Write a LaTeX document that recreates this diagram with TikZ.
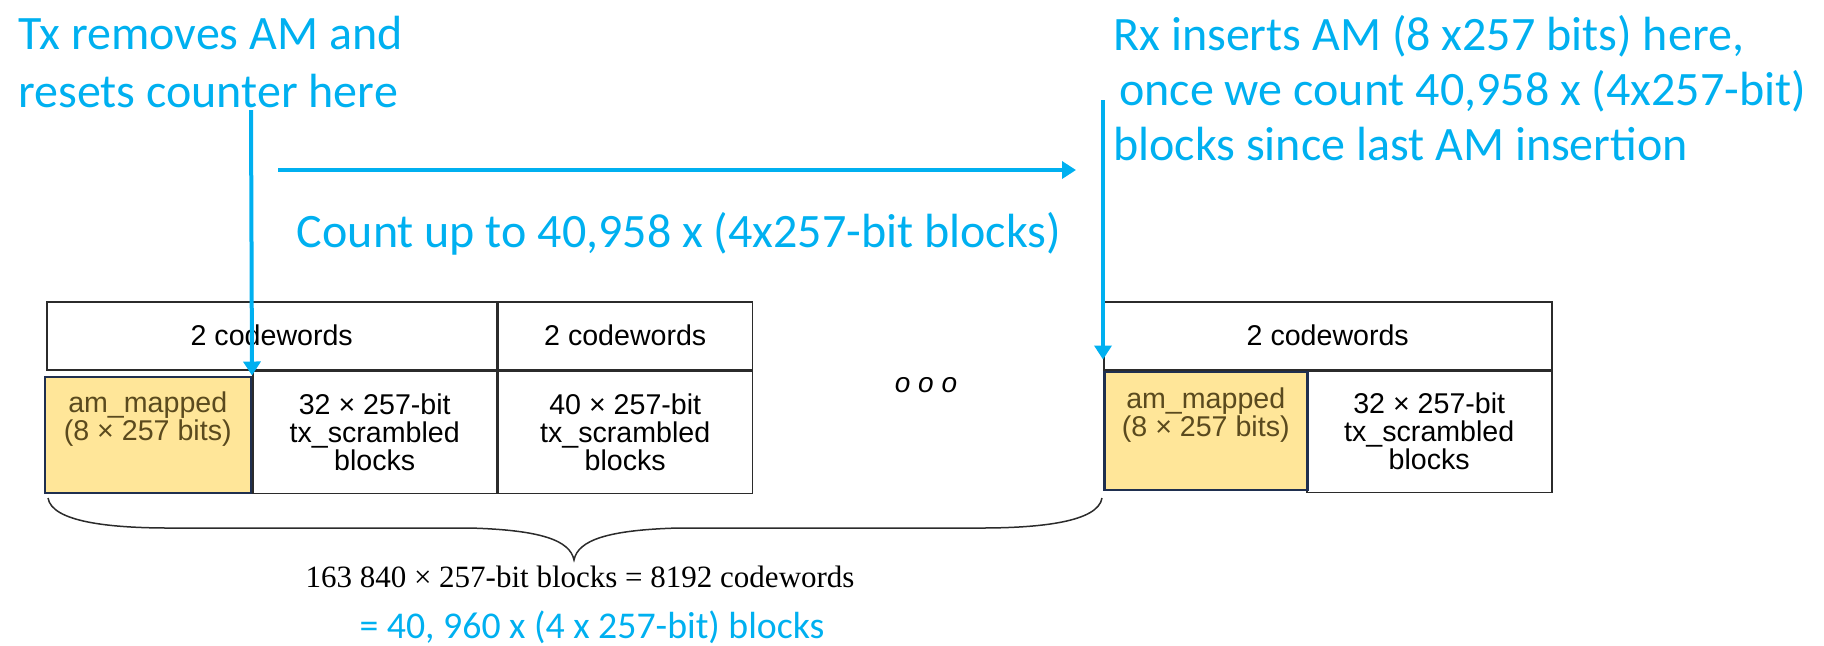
\documentclass[tikz,border=0pt]{standalone}
\usepackage{fontspec}
\setmainfont{Carlito}
\newfontfamily\arialf{Liberation Sans}
\newfontfamily\timesf{Liberation Serif}
\usetikzlibrary{arrows.meta,positioning}
\definecolor{skyblue}{HTML}{00B0F0}
\definecolor{amfill}{HTML}{FFE699}
\definecolor{amline}{HTML}{1F2F4F}
\definecolor{amtext}{HTML}{5A4A1E}
\definecolor{grid}{HTML}{2B2B2B}
\begin{document}
\begin{tikzpicture}[x=0.5pt,y=-0.5pt,>={Triangle[length=7pt,width=8.5pt]},
  note/.style={text=skyblue,font=\fontsize{24}{29}\selectfont,inner sep=0,align=left},
  cell/.style={draw=grid,line width=0.75pt,inner sep=0,align=center,font=\arialf\fontsize{14.3}{14}\selectfont},
  amcell/.style={cell,draw=amline,line width=1.25pt,fill=amfill,text=amtext},
  ar/.style={draw=skyblue,line width=2pt,->}]
\useasboundingbox (0,0) rectangle (1824,645);
\node[note,anchor=north west] (tx) at (18,16) {Tx removes AM and\\resets counter here};
\node[note,anchor=north west,font=\fontsize{24}{27.5}\selectfont] (rx) at (1113,15) {Rx inserts AM (8 x257 bits) here,\\\hspace*{3pt}once we count 40,958 x (4x257-bit)\\blocks since last AM insertion};
\node[note,anchor=base] (cnt) at (679,247) {Count up to 40,958 x (4x257-bit blocks)};
\coordinate (txs) at (251,110); \coordinate (rxs) at (1103,100);
\coordinate (c0) at (278,170); \coordinate (c1) at (1076,170);

\node[cell,anchor=north west,minimum width=225pt,minimum height=34pt] (h1) at (46,301) {2 codewords};
\node[cell,anchor=north west,minimum width=127pt,minimum height=34pt] (h2) at (h1.north east) {2 codewords};
\node[cell,anchor=north west,minimum width=127pt,minimum height=61pt] (b2) at (h2.south west) {40 × 257-bit\\tx\_scrambled\\blocks};
\node[cell,anchor=north east,minimum width=122pt,minimum height=61pt] (b1) at (b2.north west) {32 × 257-bit\\tx\_scrambled\\blocks};
\node[amcell,anchor=south east,minimum width=103pt,minimum height=58pt] (am1) at (b1.south west) {am\_mapped\\(8 × 257 bits)\\[5pt]\mbox{}};
\node[font=\arialf\itshape\fontsize{14}{14}\selectfont] (dots) at (926,385) {o o o};

\node[cell,anchor=north west,minimum width=224pt,minimum height=34pt] (h3) at (1103,301) {2 codewords};
\node[cell,anchor=north east,minimum width=122.5pt,minimum height=60.5pt] (b3) at (h3.south east) {32 × 257-bit\\tx\_scrambled\\blocks};
\node[amcell,anchor=north west,minimum width=101.5pt,minimum height=59pt] (am2) at (h3.south west) {am\_mapped\\(8 × 257 bits)\\[5pt]\mbox{}};

\draw[grid,line width=0.75pt] (48,498) .. controls (52,522) and (110,528) .. (170,528) -- (470,528)
  .. controls (540,530) and (570,540) .. (574,560) .. controls (578,540) and (608,530) .. (678,528)
  -- (980,528) .. controls (1040,528) and (1098,522) .. (1102,498);
\node[font=\timesf\fontsize{15.5}{16}\selectfont,anchor=base] (sum) at (580,587) {163 840 × 257-bit blocks = 8192 codewords};
\node[text=skyblue,font=\fontsize{18.9}{19}\selectfont,anchor=base] (eq) at (592,638) {= 40, 960 x (4 x 257-bit) blocks};

\path (txs) edge[ar] (am1.north east);
\path (c0) edge[ar] (c1);
\path (rxs) edge[ar,shorten >=5.5pt] (am2.north west);
\end{tikzpicture}
\end{document}
